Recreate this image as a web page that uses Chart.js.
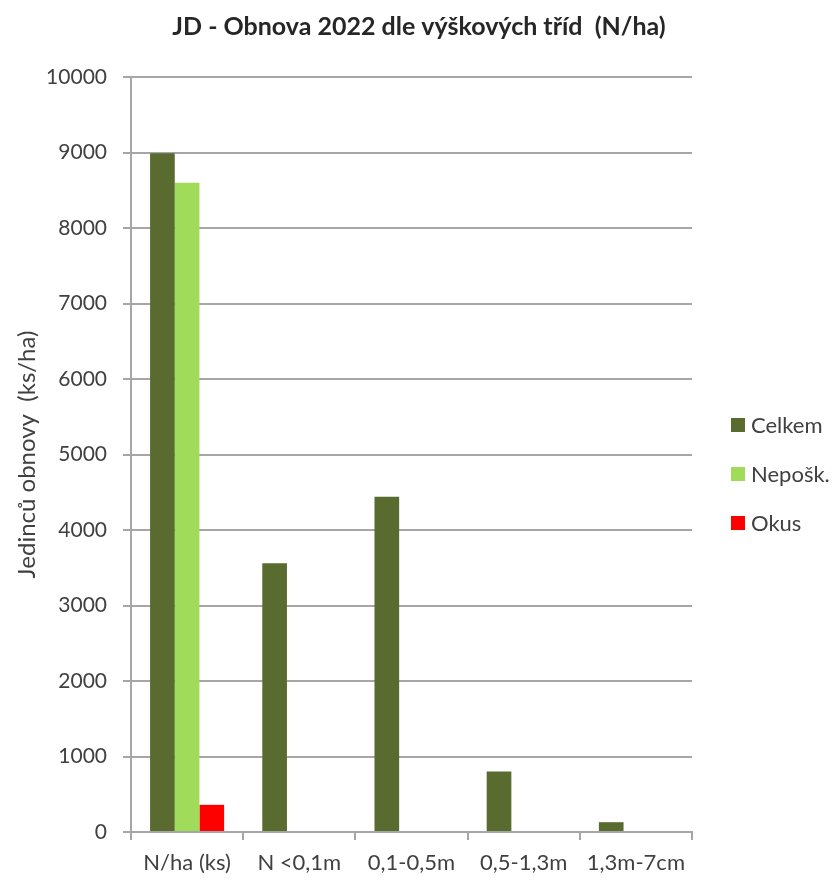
<!DOCTYPE html>
<html>
<head>
<meta charset="utf-8">
<script src="https://cdn.jsdelivr.net/npm/chart.js@4.4.0/dist/chart.umd.min.js"></script>
<style>
    html, body { margin: 0; padding: 0; background: #ffffff; }
    #wrap { width: 832px; height: 880px; }
</style>
</head>
<body>
<div id="wrap"><canvas id="chart" width="832" height="880"></canvas></div>
<script>
// JD - obnova 2022
const categories = ['N/ha (ks)', 'N <0,1m', '0,1-0,5m', '0,5-1,3m', '1,3m-7cm'];
const celkem = [8990, 3560, 4440, 800, 130];
const neposk = [8600, 0, 0, 0, 0];
const okus = [360, 0, 0, 0, 0];
const yTicks = [0, 1000, 2000, 3000, 4000, 5000, 6000, 7000, 8000, 9000, 10000];
const chartTitle = 'JD - Obnova 2022 dle výškových tříd  (N/ha)';

const FONT = 'Lato, "Open Sans", sans-serif';
const TEXT = '#404040';
const GRID = '#a6a6a6';

// title and right-hand legend drawn by hand so they sit where the original has them
const decorations = {
    id: 'decorations',
    afterDraw(chart) {
        const c = chart.ctx;
        c.save();

        c.font = `bold 25px ${FONT}`;
        c.fillStyle = '#262626';
        c.textAlign = 'center';
        c.textBaseline = 'alphabetic';
        c.fillText(chartTitle, 419, 35);

        const x = chart.chartArea.right + 39;
        c.font = `22px ${FONT}`;
        c.textBaseline = 'middle';
        c.textAlign = 'left';
        chart.data.datasets.forEach((ds, i) => {
            const y = 425 + i * 49;
            c.fillStyle = ds.backgroundColor;
            c.fillRect(x, y - 7, 14, 14);
            c.fillStyle = TEXT;
            c.fillText(ds.label, x + 20, y + 1);
        });
        c.restore();
    }
};

const ctx = document.getElementById('chart').getContext('2d');

new Chart(ctx, {
    type: 'bar',
    data: {
        labels: categories,
        datasets: [
            { label: 'Celkem', data: celkem, backgroundColor: '#5a6b2f' },
            { label: 'Nepošk.', data: neposk, backgroundColor: '#a0dc5a' },
            { label: 'Okus', data: okus, backgroundColor: '#ff0000' }
        ]
    },
    options: {
        responsive: false,
        animation: false,
        devicePixelRatio: 1,
        categoryPercentage: 0.66,
        barPercentage: 1.0,
        layout: {
            padding: { top: 77, right: 140, bottom: 0, left: 13 }
        },
        scales: {
            x: {
                afterFit: (scale) => { scale.height = 48; },
                grid: {
                    offset: true,
                    drawOnChartArea: false,
                    drawTicks: true,
                    tickLength: 8,
                    color: GRID,
                    lineWidth: 2
                },
                border: { color: GRID, width: 2 },
                ticks: {
                    color: TEXT,
                    font: { family: FONT, size: 22 },
                    padding: 10,
                    maxRotation: 0,
                    autoSkip: false
                }
            },
            y: {
                min: 0,
                max: 10000,
                afterFit: (scale) => { scale.width = 118; },
                afterBuildTicks: (axis) => {
                    axis.ticks = yTicks.map((v) => ({ value: v }));
                },
                grid: {
                    color: GRID,
                    lineWidth: 2,
                    tickLength: 8
                },
                border: { color: GRID, width: 2 },
                ticks: {
                    color: TEXT,
                    font: { family: FONT, size: 21 },
                    padding: 16,
                    callback: (value) => String(value)
                },
                title: {
                    display: true,
                    text: 'Jedinců obnovy  (ks/ha)',
                    color: TEXT,
                    font: { family: FONT, size: 24 },
                    padding: { top: 0, bottom: 0 }
                }
            }
        },
        plugins: {
            title: { display: false },
            legend: { display: false },
            tooltip: { enabled: false }
        }
    },
    plugins: [decorations]
});
</script>
</body>
</html>
